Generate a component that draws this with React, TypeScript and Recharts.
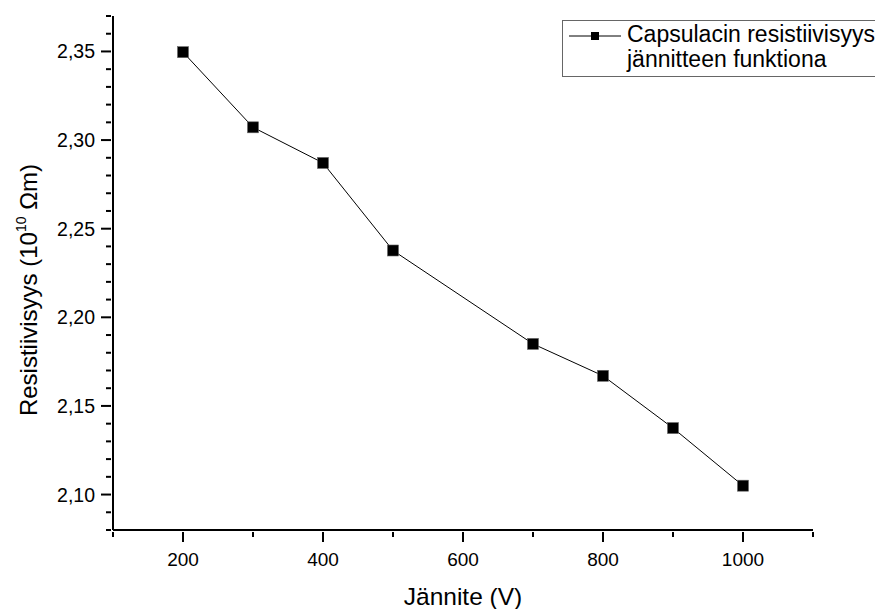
import React from 'react'
import { LineChart, Line, XAxis, YAxis, Legend } from 'recharts'

const voltages = [200, 300, 400, 500, 700, 800, 900, 1000]
const resistivity = [2.3496, 2.3072, 2.2871, 2.2377, 2.185, 2.167, 2.1375, 2.105]

const xMajorTicks = [200, 400, 600, 800, 1000]
const xMinorTicks = [100, 300, 500, 700, 900, 1100]
const yMajorTicks = [2.1, 2.15, 2.2, 2.25, 2.3, 2.35]
const yMinorTicks = [
  2.08, 2.09, 2.11, 2.12, 2.13, 2.14, 2.16, 2.17, 2.18, 2.19, 2.21, 2.22, 2.23, 2.24,
  2.26, 2.27, 2.28, 2.29, 2.31, 2.32, 2.33, 2.34, 2.36, 2.37,
]

const seriesName = 'Capsulacin resistiivisyys'
const seriesName2 = 'jännitteen funktiona'

const data = voltages.map((v, i) => ({ v, r: resistivity[i] }))
const FONT = '"Liberation Sans", Arial, sans-serif'

const xTicks = [...xMajorTicks, ...xMinorTicks].sort((a, b) => a - b)
const yTicks = [...yMajorTicks, ...yMinorTicks].sort((a, b) => a - b)
const isMajor = (list: number[], v: number) => list.some((m) => Math.abs(m - v) < 1e-6)

const TICK = 10

function XTick(props: any) {
  const { x, y, payload } = props
  const major = isMajor(xMajorTicks, payload.value)
  const axisY = y - TICK
  return (
    <g>
      <line x1={x} x2={x} y1={axisY} y2={axisY + (major ? 10 : 5)} stroke="#000" strokeWidth={2} />
      {major && (
        <text x={x} y={axisY + 34} textAnchor="middle" fontSize={19} fontFamily={FONT} fill="#000">
          {payload.value}
        </text>
      )}
    </g>
  )
}

function YTick(props: any) {
  const { x, y, payload } = props
  const major = isMajor(yMajorTicks, payload.value)
  const axisX = x + TICK
  return (
    <g>
      <line x1={axisX} x2={axisX - (major ? 10 : 5)} y1={y} y2={y} stroke="#000" strokeWidth={2} />
      {major && (
        <text x={axisX - 16} y={y + 7} textAnchor="end" fontSize={19.5} fontFamily={FONT} fill="#000">
          {payload.value.toFixed(2).replace('.', ',')}
        </text>
      )}
    </g>
  )
}

function SquareDot(props: any) {
  const { cx, cy } = props
  if (cx == null || cy == null) return null
  return <rect x={cx - 5.5} y={cy - 5.5} width={11} height={11} fill="#000" stroke="#666" strokeWidth={0.6} />
}

function YLabel(props: any) {
  const vb = props.viewBox
  const cx = vb.x + 37
  const cy = vb.y + vb.height / 2 + 17
  return (
    <text x={cx} y={cy} transform={`rotate(-90, ${cx}, ${cy})`} textAnchor="middle" fontSize={24} fontFamily={FONT} fill="#000">
      Resistiivisyys (10
      <tspan fontSize={14} dy={-11}>10</tspan>
      <tspan dy={11}> Ωm)</tspan>
    </text>
  )
}

function XLabel(props: any) {
  const vb = props.viewBox
  return (
    <text x={vb.x + vb.width / 2} y={vb.y + 75} textAnchor="middle" fontSize={24.5} fontFamily={FONT} fill="#000">
      Jännite (V)
    </text>
  )
}

function LegendBox() {
  return (
    <div
      style={{
        position: 'relative', width: 345, height: 57, boxSizing: 'border-box',
        border: '1px solid #666', background: '#fff', fontFamily: FONT, fontSize: 23,
        lineHeight: '25px', color: '#000',
      }}
    >
      <svg width={54} height={16} style={{ position: 'absolute', left: 5, top: 7 }}>
        <line x1={1} x2={53} y1={8} y2={8} stroke="#000" strokeWidth={1} />
        <rect x={23} y={4} width={8} height={8} fill="#000" />
      </svg>
      <div style={{ position: 'absolute', left: 64, top: 1, whiteSpace: 'nowrap' }}>
        <div>{seriesName}</div>
        <div>{seriesName2}</div>
      </div>
    </div>
  )
}

export default function App() {
  return (
    <div style={{ position: 'absolute', left: 0, top: 0, width: 875, height: 609, overflow: 'hidden', background: '#fff' }}>
      <LineChart width={875} height={609} data={data} margin={{ top: 16, right: 62, left: 0, bottom: 0 }}>
        <XAxis
          dataKey="v"
          type="number"
          domain={[100, 1100]}
          ticks={xTicks}
          interval={0}
          height={79}
          tickSize={TICK}
          tickLine={false}
          axisLine={{ stroke: '#000', strokeWidth: 2 }}
          tick={<XTick />}
          label={<XLabel />}
        />
        <YAxis
          type="number"
          domain={[2.08, 2.37]}
          allowDataOverflow
          ticks={yTicks}
          interval={0}
          width={113}
          tickSize={TICK}
          tickLine={false}
          axisLine={{ stroke: '#000', strokeWidth: 2 }}
          tick={<YTick />}
          label={<YLabel />}
        />
        <Legend
          layout="horizontal"
          verticalAlign="middle"
          align="center"
          content={() => <LegendBox />}
          wrapperStyle={{ left: 562, top: 20, width: 'auto' }}
        />
        <Line
          dataKey="r"
          stroke="#000"
          strokeWidth={1}
          dot={<SquareDot />}
          activeDot={false}
          isAnimationActive={false}
        />
      </LineChart>
    </div>
  )
}
